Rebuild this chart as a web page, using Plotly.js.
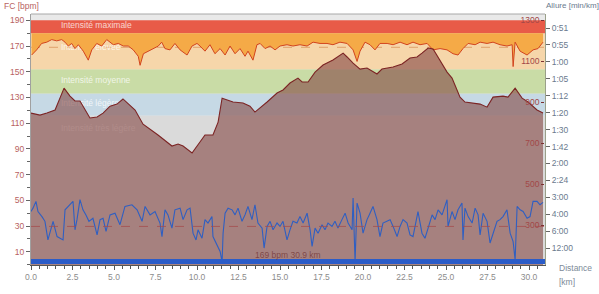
<!DOCTYPE html>
<html><head><meta charset="utf-8">
<script src="https://cdn.plot.ly/plotly-3.0.1.min.js"></script>
<style>html,body{margin:0;padding:0;background:#fff}#c{width:599px;height:294px}</style>
</head><body><div id="c"></div>
<script>
// Heart rate (bpm) vs distance (km)
const hrKm = [0.04,0.34,0.64,0.95,1.25,1.55,1.85,2.05,2.25,2.45,2.65,2.85,3.15,3.45,3.66,3.96,4.26,4.56,4.76,4.96,5.26,5.56,5.86,6.16,6.46,6.57,6.77,7.07,7.37,7.67,7.87,8.07,8.37,8.67,8.98,9.40,9.70,10.0,10.18,10.48,10.78,11.08,11.39,11.69,11.99,12.29,12.59,12.89,13.07,13.37,13.61,13.80,14.10,14.40,14.70,15.0,15.42,15.78,16.20,16.63,16.99,17.41,17.83,18.19,18.61,19.04,19.40,19.64,19.82,20.12,20.42,20.72,21.02,21.45,21.81,22.23,22.65,23.01,23.43,23.86,24.22,24.64,25.06,25.42,25.72,26.02,26.33,26.75,27.05,27.47,27.83,28.25,28.67,28.98,29.04,29.16,29.46,29.88,30.24,30.54,30.84];
const hr = [163,167,172,173,175,174,175,173,170,172,168,171,166,159,167,172,170,175,173,171,172,170,170,167,162,155,164,166,168,170,173,168,167,172,167,163,170,172,170,166,171,164,168,163,170,164,168,162,166,159,171,172,168,170,167,170,171,170,171,170,173,172,172,171,173,172,167,158,166,173,171,167,172,172,171,173,171,173,171,172,167,168,167,164,163,168,172,171,173,172,173,171,170,171,154,173,166,163,167,168,173];

// Altitude (m) vs distance (km)
const altKm = [0,0.54,0.96,1.45,1.99,2.35,2.65,2.95,3.55,3.98,4.34,4.76,5.18,5.54,6.27,6.75,7.65,8.49,8.86,9.16,9.70,10.48,10.96,11.27,11.51,12.17,12.77,13.19,13.49,13.80,14.22,14.82,15.18,15.60,16.08,16.33,16.69,17.11,17.59,18.19,18.80,19.04,19.40,19.82,20.24,20.84,21.14,21.81,22.35,22.83,23.25,23.55,23.92,24.22,24.64,25.06,25.36,25.84,26.14,26.63,27.05,27.47,27.83,28.43,28.73,29.16,29.58,29.94,30.48,30.84];
const alt = [847,837,847,862,969,930,906,906,823,828,847,881,891,916,862,793,740,686,696,686,652,740,740,803,920,901,896,881,852,872,901,945,960,994,1018,999,999,1047,1082,1106,1140,1121,1091,1062,1067,1038,1062,1072,1087,1116,1121,1140,1165,1160,1106,1047,1018,925,901,896,891,876,925,930,925,969,920,901,862,847];

// Speed (km/h) vs distance (km)
const spdKm = [0.00,0.12,0.30,0.42,0.66,0.84,1.02,1.27,1.33,1.57,1.75,1.93,2.05,2.23,2.47,2.53,2.65,2.77,2.95,3.13,3.31,3.49,3.73,3.98,4.16,4.34,4.52,4.76,5.06,5.36,5.66,6.08,6.39,6.69,6.87,7.17,7.47,7.77,7.89,8.07,8.25,8.49,8.67,8.98,9.16,9.40,9.58,
9.76,9.94,10.06,10.30,10.48,10.66,10.90,10.96,11.20,11.39,11.51,11.57,11.69,11.87,12.11,12.29,12.47,12.71,12.89,13.07,13.31,13.49,13.67,13.92,14.04,14.22,14.40,14.58,14.82,15.00,15.18,15.42,15.60,15.78,16.02,16.20,16.39,16.63,16.81,16.93,17.11,17.29,17.53,17.71,17.89,18.13,18.31,18.49,18.73,18.92,19.10,19.34,19.40,19.52,19.64,19.82,20.00,20.24,20.42,20.60,20.84,21.02,21.20,21.45,21.63,21.81,22.05,
22.23,22.41,22.65,22.83,23.01,23.25,23.31,23.55,23.73,23.92,24.16,24.34,24.52,24.76,24.94,25.06,25.12,25.36,25.54,25.72,25.96,26.02,26.14,26.33,26.57,26.75,26.93,27.05,27.23,27.47,27.65,27.83,28.07,28.25,28.43,28.67,28.86,29.04,29.16,29.28,29.46,29.64,29.88,30.06,30.24,30.48,30.66,30.84];
const spd = [15.8,16.8,18.8,15.8,14.3,12.9,7.4,11.9,12.9,8.4,7.9,7.4,16.3,17.3,18.3,18.8,10.4,13.4,19.3,16.3,14.8,12.9,13.8,8.9,13.4,13.8,9.9,14.8,15.3,11.9,17.3,17.8,16.3,12.9,17.3,14.8,15.8,12.4,8.4,16.3,14.8,10.9,16.3,16.8,13.4,16.3,16.8,
9.4,7.4,10.4,7.9,13.4,12.4,14.3,8.4,6.0,4.0,1.0,9.4,15.3,16.8,16.3,14.8,16.8,12.9,14.8,17.3,13.4,17.8,12.4,10.9,5.0,11.4,12.9,10.4,12.4,11.4,12.9,7.4,10.4,12.9,12.4,14.3,12.4,15.3,10.4,5.5,10.9,9.4,11.9,10.4,12.4,11.4,12.9,10.9,13.4,15.3,12.4,10.4,19.8,1.0,18.3,15.3,9.4,13.4,15.3,17.3,13.4,8.4,12.4,12.9,13.4,11.4,8.4,
11.4,13.4,12.4,8.9,8.4,14.3,15.8,9.4,7.9,10.9,14.8,13.4,16.3,14.8,17.8,19.3,11.4,15.8,13.4,16.3,18.3,7.4,16.8,14.3,12.4,16.8,14.8,8.9,15.3,12.9,6.5,9.4,12.9,13.4,14.3,16.3,9.4,6.9,1.5,17.3,16.3,15.8,13.8,14.3,18.8,18.8,17.8,18.5];

// Heart-rate zones
const zoneLow  = [0,116,133,152,180];
const zoneHigh = [116,133,152,180,190];
const zoneColors = ['#dadada','#c6d9e5','#c9dca6','#f6d6aa','#e85b48'];
const zoneNames = ['Intensité maximale','Intensité élevée','Intensité moyenne','Intensité légère','Intensité très légère'];
const zoneLabelHR = [185.5,168.5,142.8,124.8,105.5];
const zoneLabelKm = 1.8;
const hrCeil = 180;

const avgHR = 169;
const avgSpeed = 11.4;
const summaryText = '169 bpm 30.9 km';

// Axis ticks
const distTicks = [0,2.5,5,7.5,10,12.5,15,17.5,20,22.5,25,27.5,30];
const distLabels = ['0.0','2.5','5.0','7.5','10.0','12.5','15.0','17.5','20.0','22.5','25.0','27.5','30.0'];
const hrTick0 = 10, hrDtick = 20;
const altTick0 = 300, altDtick = 200;
const paceSpeeds = [5,10,15,20,25,30,35,40,45,50,55,60,65,70];
const paceLabels = ['12:00','6:00','4:00','3:00','2:24','2:00','1:42','1:30','1:20','1:12','1:05','1:00','0:55','0:51'];

const F = '"Liberation Sans", Arial, sans-serif';

const traces = [
  {x: zoneLabelHR.map(()=>zoneLabelKm), y: zoneLabelHR, text: zoneNames, mode:'text',
   textposition:'middle right', textfont:{family:F,size:8.5,color:'rgba(255,255,255,0.75)'},
   hoverinfo:'skip', showlegend:false, cliponaxis:false},
  {x: hrKm, y: hrKm.map(()=>hrCeil), mode:'lines', line:{width:0,color:'rgba(0,0,0,0)'}, hoverinfo:'skip', showlegend:false},
  {x: hrKm, y: hr, mode:'lines', fill:'tonexty', fillcolor:'#f5aa47',
   line:{color:'#d2441f', width:1}, showlegend:false},
  {x: altKm, y: alt, yaxis:'y2', mode:'lines', fill:'tozeroy', fillcolor:'rgba(134,74,71,0.62)',
   line:{color:'#7c2424', width:1.1}, showlegend:false},
  {x: spdKm, y: spd, yaxis:'y3', mode:'lines', line:{color:'#2f5fc2', width:1.1}, showlegend:false}
];

const shapes = [];
for (let i=0;i<zoneLow.length;i++){
  shapes.push({type:'rect', xref:'paper', yref:'y', x0:0, x1:1, y0:zoneLow[i], y1:zoneHigh[i],
    fillcolor:zoneColors[i], line:{width:0}, layer:'below'});
}
shapes.push({type:'line', xref:'paper', yref:'y', x0:0, x1:1, y0:avgHR, y1:avgHR,
  line:{color:'rgba(215,140,80,0.7)', width:1, dash:'dash'}, layer:'below'});
shapes.push({type:'line', xref:'paper', yref:'y3', x0:0, x1:1, y0:avgSpeed, y1:avgSpeed,
  line:{color:'rgba(165,75,75,0.75)', width:1, dash:'dash'}, layer:'above'});
shapes.push({type:'rect', xref:'paper', yref:'paper', x0:0, x1:1, y0:0.004, y1:0.024,
  fillcolor:'#2b5cc8', line:{width:0}, layer:'above'});
shapes.push({type:'line', xref:'paper', yref:'paper', x0:0, x1:1, y0:1, y1:1,
  line:{color:'#a8a8a8', width:1}, layer:'above'});

const layout = {
  width:599, height:294,
  margin:{l:31, r:54, t:14, b:29, pad:0},
  paper_bgcolor:'#ffffff', plot_bgcolor:'#e9e9e9',
  font:{family:F, size:8.5, color:'#888'},
  showlegend:false,
  xaxis:{range:[0,30.96], tickmode:'array', tickvals:distTicks, ticktext:distLabels,
    ticks:'outside', ticklen:4, tickcolor:'#555', showline:true, linecolor:'#555', linewidth:1,
    showgrid:false, zeroline:false, tickfont:{family:F,size:8.5,color:'#8c8c8c'},
    minor:{tick0:0, dtick:0.5, ticks:'outside', ticklen:3, tickcolor:'#555', showgrid:false}},
  yaxis:{range:[-0.3,194.9], tickmode:'linear', tick0:hrTick0, dtick:hrDtick,
    ticks:'outside', ticklen:4, tickcolor:'#666', showline:true, linecolor:'#a0a0a0',
    showgrid:false, zeroline:false, tickfont:{family:F,size:8.5,color:'#b86262'},
    minor:{tick0:0, dtick:10, ticks:'outside', ticklen:3, tickcolor:'#666', showgrid:false}},
  yaxis2:{overlaying:'y', side:'left', anchor:'free', position:0.9985, range:[105,1331], tickmode:'linear',
    tick0:altTick0, dtick:altDtick, ticks:'outside', ticklen:3, tickcolor:'#7a3030',
    showgrid:false, zeroline:false, showline:false,
    tickfont:{family:F,size:8.5,color:'#a24848'}},
  yaxis3:{overlaying:'y', side:'right', anchor:'x', range:[0,74.15], tickmode:'array',
    tickvals:paceSpeeds, ticktext:paceLabels, ticks:'outside', ticklen:4, tickcolor:'#666',
    showline:true, linecolor:'#9aa08a', showgrid:false, zeroline:false,
    tickfont:{family:F,size:8.5,color:'#6a7a8e'}},
  shapes:shapes,
  annotations:[
    {text:'FC [bpm]', xref:'paper', yref:'paper', x:-0.0564, y:1.032, xanchor:'left', yanchor:'middle',
     showarrow:false, font:{family:F,size:8.5,color:'#b86262'}},
    {text:'Allure [min/km]', xref:'paper', yref:'paper', x:0.9981, y:1.032, xanchor:'left', yanchor:'middle',
     showarrow:false, font:{family:F,size:8,color:'#6a7a8e'}},
    {text:'Distance', xref:'paper', yref:'paper', x:1.0233, y:-0.012, xanchor:'left', yanchor:'middle',
     showarrow:false, font:{family:F,size:8.5,color:'#7d8a98'}},
    {text:'[km]', xref:'paper', yref:'paper', x:1.0233, y:-0.068, xanchor:'left', yanchor:'middle',
     showarrow:false, font:{family:F,size:8.5,color:'#7d8a98'}},
    {text:summaryText, xref:'paper', yref:'paper', x:0.5, y:0.04, xanchor:'center', yanchor:'middle',
     showarrow:false, font:{family:F,size:8.5,color:'rgba(110,45,45,0.7)'}}
  ]
};

Plotly.newPlot('c', traces, layout, {displayModeBar:false, staticPlot:true});
</script>
</body></html>
